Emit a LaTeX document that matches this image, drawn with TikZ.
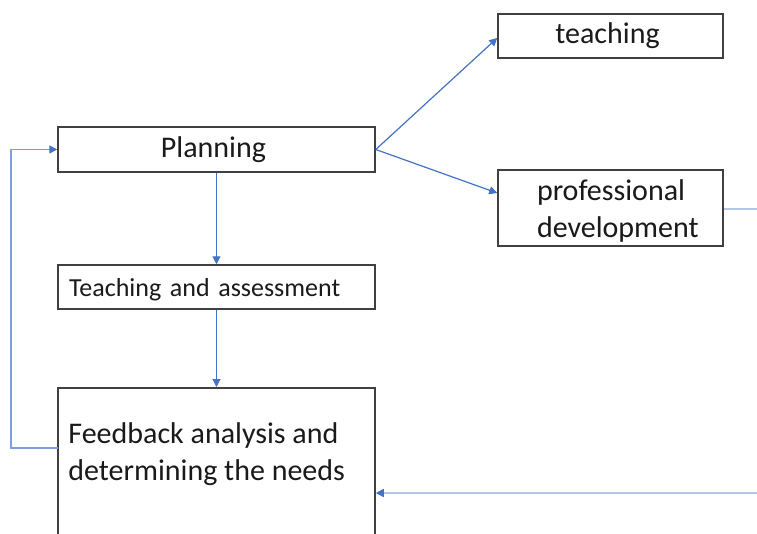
\documentclass[tikz,border=0pt]{standalone}
\usepackage{fontspec}
\setmainfont{Carlito}
\usetikzlibrary{arrows.meta,calc}

\definecolor{boxline}{HTML}{404040}
\definecolor{flow}{HTML}{4472C4}
\definecolor{loopblue}{HTML}{7F9FDC}
\definecolor{paleblue}{HTML}{B4C7E7}
\definecolor{ink}{HTML}{1A1A1A}

\tikzset{
  box/.style={draw=boxline, line width=1.5pt, rectangle, inner sep=0pt, text=ink},
  bigtext/.style={font=\fontsize{30}{36.5}\selectfont},
  smalltext/.style={font=\fontsize{26}{31}\selectfont},
  flowarrow/.style={draw=flow, line width=1.2pt, -{Triangle[length=8pt,width=8pt]}},
  looparrow/.style={draw=loopblue, line width=1.4pt, -{Triangle[length=8pt,width=8pt,fill=flow,color=flow]}},
  paleline/.style={draw=paleblue, line width=1.6pt},
  palearrow/.style={draw=paleblue, line width=1.6pt, -{Triangle[length=8pt,width=8pt,fill=flow,color=flow]}}
}

\begin{document}
\begin{tikzpicture}[x=1pt, y=-1pt]
  \useasboundingbox[fill=white] (0,0) rectangle (757,533);
  \clip (0,0) rectangle (757,533);

  % boxes
  \node[box, bigtext, minimum width=317pt, minimum height=45pt] (plan) at (216.5,149.5) {\hspace*{-6pt}Planning};
  \node[box, bigtext, minimum width=225pt, minimum height=44pt] (teach) at (610.5,36) {\hspace*{-6pt}teaching};
  \node[box, bigtext, minimum width=225pt, minimum height=76pt, align=left, text width=205pt, inner xsep=0pt] (prof) at (610.5,208)
    {\hspace*{29pt}\rule{0pt}{27pt}professional\\\hspace*{29pt}development};
  \node[box, smalltext, minimum width=317pt, minimum height=44pt, align=left, text width=295pt] (assess) at (216.5,287)
    {\rule{0pt}{24pt}Teaching and assessment};
  \node[box, minimum width=317pt, minimum height=170pt, anchor=north] (fb) at (216.5,387) {};
  \node[bigtext, text=ink, align=left, anchor=base west, inner sep=0pt] (fbtext) at ($(fb.north west)+(11,93)$)
    {Feedback analysis and\\determining the needs};

  % free ends of the connectors that leave the frame
  \coordinate (profout) at (757,209);
  \coordinate (fbin) at (757,493);
  \coordinate (fbout) at (58,448);

  % connectors
  \draw[flowarrow] (plan.south) -- (assess.north);
  \draw[flowarrow] (assess.south) -- (fb.north);
  \draw[flowarrow] (plan.east) -- ([yshift=-2pt]teach.west);
  \draw[flowarrow] (plan.east) -- ([yshift=15pt]prof.west);
  \draw[looparrow] (fbout) -- ++(-47,0) |- (plan.west);
  \draw[paleline] (prof.east |- profout) -- (profout);
  \draw[palearrow] (fbin) -- (fb.east |- fbin);
\end{tikzpicture}
\end{document}
